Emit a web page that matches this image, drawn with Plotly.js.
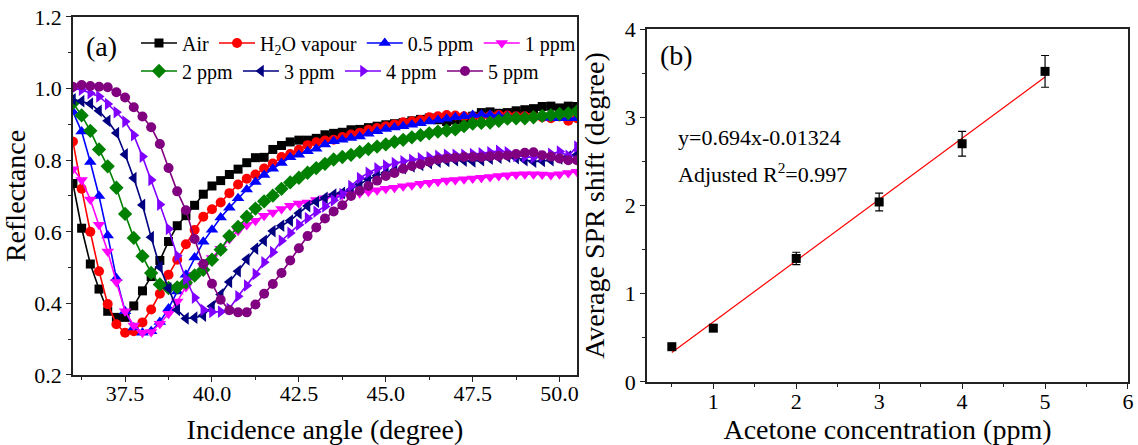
<!DOCTYPE html>
<html>
<head>
<meta charset="utf-8">
<script src="https://cdn.plot.ly/plotly-3.0.1.min.js"></script>
<style>
  html, body { margin: 0; padding: 0; background: #fff; }
  #grafica { width: 1138px; height: 445px; }
</style>
</head>
<body>
<div id="grafica"></div>
<script>
// ---------- (a) reflectance curves ----------
const angulos = [36, 36.25, 36.5, 36.75, 37, 37.25, 37.5, 37.75, 38, 38.25,
  38.5, 38.75, 39, 39.25, 39.5, 39.75, 40, 40.25, 40.5, 40.75,
  41, 41.25, 41.5, 41.75, 42, 42.25, 42.5, 42.75, 43, 43.25,
  43.5, 43.75, 44, 44.25, 44.5, 44.75, 45, 45.25, 45.5, 45.75,
  46, 46.25, 46.5, 46.75, 47, 47.25, 47.5, 47.75, 48, 48.25,
  48.5, 48.75, 49, 49.25, 49.5, 49.75, 50, 50.25, 50.5];

const rAir = [0.735, 0.61, 0.51, 0.44, 0.378, 0.361, 0.361, 0.393, 0.435, 0.475,
  0.52, 0.573, 0.617, 0.645, 0.674, 0.705, 0.728, 0.743, 0.76, 0.775,
  0.793, 0.807, 0.808, 0.83, 0.841, 0.851, 0.856, 0.856, 0.861, 0.871,
  0.875, 0.878, 0.885, 0.886, 0.891, 0.895, 0.899, 0.902, 0.905, 0.91,
  0.914, 0.918, 0.913, 0.908, 0.912, 0.916, 0.923, 0.933, 0.935, 0.931,
  0.933, 0.938, 0.941, 0.944, 0.95, 0.951, 0.946, 0.951, 0.95];

const rH2O = [0.852, 0.72, 0.6, 0.49, 0.398, 0.342, 0.318, 0.322, 0.347, 0.383,
  0.427, 0.48, 0.522, 0.565, 0.605, 0.642, 0.663, 0.682, 0.708, 0.732,
  0.748, 0.76, 0.777, 0.791, 0.809, 0.817, 0.829, 0.842, 0.85, 0.855,
  0.857, 0.865, 0.872, 0.877, 0.885, 0.89, 0.895, 0.9, 0.906, 0.909,
  0.912, 0.92, 0.923, 0.926, 0.925, 0.923, 0.922, 0.923, 0.924, 0.926,
  0.925, 0.923, 0.923, 0.922, 0.92, 0.917, 0.922, 0.91, 0.917];

const r05 = [0.935, 0.88, 0.795, 0.7, 0.59, 0.47, 0.378, 0.333, 0.318, 0.322,
  0.348, 0.386, 0.433, 0.48, 0.528, 0.572, 0.606, 0.64, 0.667, 0.694,
  0.718, 0.739, 0.759, 0.776, 0.792, 0.808, 0.815, 0.825, 0.832, 0.844,
  0.853, 0.857, 0.862, 0.866, 0.874, 0.881, 0.887, 0.891, 0.895, 0.899,
  0.903, 0.908, 0.912, 0.916, 0.92, 0.923, 0.926, 0.928, 0.927, 0.924,
  0.923, 0.922, 0.922, 0.921, 0.92, 0.918, 0.917, 0.917, 0.917];

const r1 = [0.775, 0.745, 0.69, 0.62, 0.545, 0.46, 0.378, 0.338, 0.318, 0.32,
  0.343, 0.371, 0.405, 0.446, 0.48, 0.505, 0.527, 0.553, 0.58, 0.603,
  0.619, 0.631, 0.645, 0.654, 0.664, 0.673, 0.679, 0.682, 0.689, 0.694,
  0.699, 0.703, 0.706, 0.708, 0.712, 0.716, 0.72, 0.723, 0.727, 0.73,
  0.734, 0.737, 0.74, 0.743, 0.745, 0.747, 0.749, 0.751, 0.753, 0.756,
  0.758, 0.76, 0.761, 0.761, 0.76, 0.759, 0.761, 0.764, 0.768];

const r2 = [0.96, 0.925, 0.882, 0.83, 0.783, 0.723, 0.65, 0.583, 0.532, 0.485,
  0.453, 0.443, 0.445, 0.458, 0.478, 0.494, 0.522, 0.55, 0.588, 0.614,
  0.642, 0.665, 0.685, 0.701, 0.72, 0.738, 0.751, 0.765, 0.778, 0.79,
  0.802, 0.809, 0.815, 0.823, 0.831, 0.838, 0.844, 0.851, 0.857, 0.864,
  0.87, 0.875, 0.88, 0.883, 0.886, 0.895, 0.902, 0.904, 0.905, 0.91,
  0.916, 0.917, 0.917, 0.92, 0.924, 0.926, 0.929, 0.931, 0.936];

const r3 = [0.97, 0.965, 0.958, 0.938, 0.91, 0.876, 0.816, 0.75, 0.675, 0.585,
  0.502, 0.442, 0.382, 0.358, 0.36, 0.366, 0.392, 0.425, 0.46, 0.49,
  0.523, 0.553, 0.575, 0.602, 0.617, 0.631, 0.652, 0.672, 0.684, 0.695,
  0.704, 0.709, 0.718, 0.733, 0.747, 0.757, 0.765, 0.772, 0.778, 0.783,
  0.787, 0.792, 0.796, 0.798, 0.8, 0.799, 0.797, 0.8, 0.804, 0.807,
  0.81, 0.806, 0.8, 0.796, 0.798, 0.8, 0.805, 0.81, 0.815];

const r4 = [1.0, 0.997, 0.987, 0.978, 0.957, 0.934, 0.908, 0.87, 0.81, 0.745,
  0.676, 0.608, 0.533, 0.468, 0.416, 0.382, 0.376, 0.377, 0.385, 0.42,
  0.45, 0.482, 0.515, 0.543, 0.575, 0.597, 0.62, 0.638, 0.656, 0.671,
  0.688, 0.705, 0.728, 0.75, 0.765, 0.777, 0.785, 0.792, 0.797, 0.801,
  0.805, 0.808, 0.812, 0.815, 0.815, 0.815, 0.817, 0.819, 0.822, 0.826,
  0.822, 0.812, 0.81, 0.808, 0.811, 0.818, 0.824, 0.812, 0.838];

const r5 = [1.005, 1.01, 1.007, 1.005, 1.004, 0.99, 0.975, 0.948, 0.922, 0.892,
  0.845, 0.778, 0.713, 0.66, 0.58, 0.51, 0.455, 0.41, 0.381, 0.375,
  0.375, 0.397, 0.427, 0.454, 0.485, 0.52, 0.554, 0.588, 0.612, 0.637,
  0.657, 0.674, 0.7, 0.715, 0.728, 0.743, 0.756, 0.764, 0.776, 0.784,
  0.789, 0.796, 0.802, 0.805, 0.807, 0.809, 0.809, 0.808, 0.811, 0.812,
  0.813, 0.817, 0.821, 0.822, 0.814, 0.81, 0.805, 0.8, 0.8];

const nombres = ["Air", "H<sub>2</sub>O vapour", "0.5 ppm", "1 ppm",
  "2 ppm", "3 ppm", "4 ppm", "5 ppm"];
const series = [rAir, rH2O, r05, r1, r2, r3, r4, r5];
const colores = ["#000000", "#ff0000", "#0000ff", "#ff00ff",
  "#008000", "#000080", "#8000ff", "#800080"];
const simbolos = ["square", "circle", "triangle-up", "triangle-down",
  "diamond", "triangle-left", "triangle-right", "circle"];
const tamanos = [9, 10, 11, 11, 11, 11, 11, 10];

// ---------- (b) SPR shift vs concentration ----------
const conc = [0.5, 1, 2, 3, 4, 5];
const shift = [0.40, 0.61, 1.40, 2.04, 2.70, 3.52];
const shiftErr = [0.02, 0.03, 0.07, 0.10, 0.14, 0.18];
const ajusteX = [0.5, 5];
const ajusteY = [0.334, 3.457];

const fuente = "Liberation Serif, Times New Roman, serif";

// -------------------------------
let trazas = [];

for (let i = 0; i < series.length; i++) {
  trazas.push({
    x: angulos,
    y: series[i],
    type: "scatter",
    mode: "lines+markers",
    name: nombres[i],
    legend: i < 4 ? "legend" : "legend2",
    line: { color: colores[i], width: 1.6 },
    marker: { symbol: simbolos[i], color: colores[i], size: tamanos[i] },
    xaxis: "x",
    yaxis: "y"
  });
}

trazas.push({
  x: ajusteX,
  y: ajusteY,
  type: "scatter",
  mode: "lines",
  line: { color: "#ff0000", width: 1.2 },
  showlegend: false,
  xaxis: "x2",
  yaxis: "y2"
});

trazas.push({
  x: conc,
  y: shift,
  type: "scatter",
  mode: "markers",
  marker: { symbol: "square", color: "#000", size: 9 },
  error_y: { type: "data", array: shiftErr, color: "#000", thickness: 1.2, width: 4 },
  showlegend: false,
  xaxis: "x2",
  yaxis: "y2"
});

// ---------- axes ----------
function ejeBase(extra) {
  return Object.assign({
    showgrid: false,
    zeroline: false,
    showline: true,
    mirror: true,
    linecolor: "#222",
    linewidth: 1.5,
    ticks: "outside",
    ticklen: 5,
    tickwidth: 1.2,
    tickcolor: "#222",
    tickfont: { family: fuente, size: 22, color: "#000" },
    automargin: false
  }, extra);
}

function ejeEspejo(extra) {
  return Object.assign({
    showgrid: false,
    zeroline: false,
    showline: false,
    showticklabels: false,
    ticks: "inside",
    ticklen: 5,
    tickwidth: 1.2,
    tickcolor: "#222"
  }, extra);
}

const tituloFont = { family: fuente, size: 28, color: "#000" };

const layout = {
  width: 1138,
  height: 445,
  margin: { l: 0, r: 0, t: 0, b: 0 },
  paper_bgcolor: "#fff",
  plot_bgcolor: "#fff",
  font: { family: fuente, color: "#000" },

  xaxis: ejeBase({
    domain: [0.0641, 0.5070],
    anchor: "y",
    range: [36, 50.5],
    tick0: 37.5, dtick: 2.5, tickformat: ".1f",
    ticklabelstandoff: -7,
    minor: { ticks: "outside", ticklen: 3, dtick: 1.25, tick0: 36.25, tickcolor: "#222" },
    title: { text: "Incidence angle (degree)", font: tituloFont, standoff: 14 }
  }),
  yaxis: ejeBase({
    domain: [0.1573, 0.9618],
    anchor: "x",
    range: [0.2, 1.2],
    tick0: 0.2, dtick: 0.2, tickformat: ".1f",
    minor: { ticks: "outside", ticklen: 3, dtick: 0.1, tickcolor: "#222" },
    title: { text: "Reflectance", font: tituloFont, standoff: 8 }
  }),
  xaxis3: ejeEspejo({
    overlaying: "x", anchor: "y", side: "top",
    range: [36, 50.5], tick0: 37.5, dtick: 2.5,
    minor: { ticks: "inside", ticklen: 3, dtick: 1.25, tick0: 36.25, tickcolor: "#222" }
  }),
  yaxis3: ejeEspejo({
    overlaying: "y", anchor: "x", side: "right",
    range: [0.2, 1.2], tick0: 0.2, dtick: 0.2,
    minor: { ticks: "inside", ticklen: 3, dtick: 0.1, tickcolor: "#222" }
  }),

  xaxis2: ejeBase({
    domain: [0.5685, 0.9912],
    anchor: "y2",
    range: [0.2, 6],
    tick0: 0, dtick: 1,
    ticklabelstandoff: -6,
    minor: { ticks: "outside", ticklen: 3, dtick: 0.5, tick0: 0, tickcolor: "#222" },
    title: { text: "Acetone concentration (ppm)", font: tituloFont, standoff: 0 }
  }),
  yaxis2: ejeBase({
    domain: [0.1416, 0.9348],
    anchor: "x2",
    range: [0, 4],
    tick0: 0, dtick: 1,
    minor: { ticks: "outside", ticklen: 3, dtick: 0.5, tickcolor: "#222" },
    title: { text: "Average SPR shift (degree)", font: { family: fuente, size: 28, color: "#000" }, standoff: 12 }
  }),
  xaxis4: ejeEspejo({
    overlaying: "x2", anchor: "y2", side: "top",
    range: [0.2, 6], tick0: 0, dtick: 1,
    minor: { ticks: "inside", ticklen: 3, dtick: 0.5, tick0: 0, tickcolor: "#222" }
  }),
  yaxis4: ejeEspejo({
    overlaying: "y2", anchor: "x2", side: "right",
    range: [0, 4], tick0: 0, dtick: 1,
    minor: { ticks: "inside", ticklen: 3, dtick: 0.5, tickcolor: "#222" }
  }),

  legend: {
    orientation: "h",
    x: 0.1195, xanchor: "left",
    y: 0.9034, yanchor: "middle",
    bgcolor: "rgba(0,0,0,0)",
    itemwidth: 36,
    tracegroupgap: 0,
    font: { family: fuente, size: 20, color: "#000" }
  },
  legend2: {
    orientation: "h",
    x: 0.1195, xanchor: "left",
    y: 0.8404, yanchor: "middle",
    bgcolor: "rgba(0,0,0,0)",
    itemwidth: 36,
    tracegroupgap: 0,
    font: { family: fuente, size: 20, color: "#000" }
  },

  annotations: [
    { text: "(a)", xref: "paper", yref: "paper", x: 0.0888, y: 0.8944,
      xanchor: "center", yanchor: "middle", showarrow: false,
      font: { family: fuente, size: 28, color: "#000" } },
    { text: "(b)", xref: "paper", yref: "paper", x: 0.5949, y: 0.8742,
      xanchor: "center", yanchor: "middle", showarrow: false,
      font: { family: fuente, size: 28, color: "#000" } },
    { text: "y=0.694x-0.01324", xref: "paper", yref: "paper", x: 0.594, y: 0.6899,
      xanchor: "left", yanchor: "middle", showarrow: false,
      font: { family: fuente, size: 22, color: "#000" } },
    { text: "Adjusted R<sup>2</sup>=0.997", xref: "paper", yref: "paper", x: 0.594, y: 0.6112,
      xanchor: "left", yanchor: "middle", showarrow: false,
      font: { family: fuente, size: 22, color: "#000" } }
  ]
};

Plotly.newPlot("grafica", trazas, layout, { displayModeBar: false, responsive: false });
</script>
</body>
</html>
